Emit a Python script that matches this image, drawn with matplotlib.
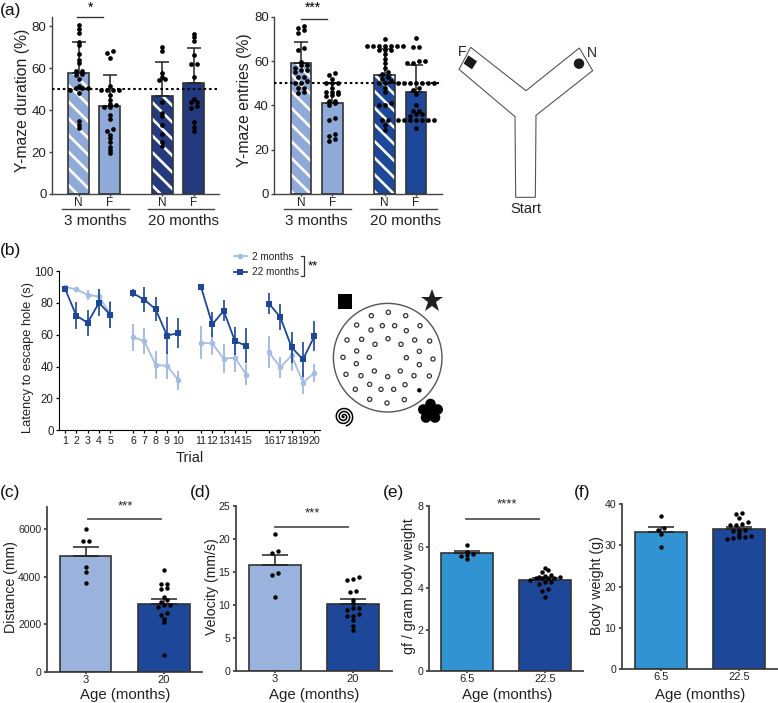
import numpy as np
import matplotlib
matplotlib.use('Agg')
import matplotlib.pyplot as plt
from matplotlib.lines import Line2D
from matplotlib.patches import Circle, Rectangle, Polygon

plt.rcParams['font.family'] = ['Liberation Sans', 'DejaVu Sans']
plt.rcParams['hatch.linewidth'] = 1.9

W, H = 778, 703

# (a) Y-maze duration
dur_labels = ['N', 'F', 'N', 'F']
dur_means = [58, 42, 47, 53]
dur_tops = [72.5, 57, 63, 69.5]
dur_dots = [
    [80.5, 79, 77, 72.5, 71, 67, 64, 62.5, 58.5, 58.5, 57.5, 57, 55, 51.5, 50.5, 50.5, 50.5, 49.5, 48, 35, 33, 31.5],
    [68.5, 67.5, 65, 51.5, 49.5, 49.5, 49.5, 49.5, 47.5, 45, 43, 42.5, 41.5, 41.5, 37.5, 36, 31, 30, 28, 26.5, 25, 22.5, 21, 19.5],
    [70, 68.5, 58, 56, 55, 54.5, 44, 38.5, 37, 33, 28.5, 25, 23],
    [76.5, 75, 73, 66.5, 62, 62, 56, 45.5, 44, 44, 42, 41, 34.5, 32, 30],
]

# (a) Y-maze entries
ent_labels = ['N', 'F', 'N', 'F']
ent_means = [59, 41, 53.5, 46]
ent_tops = [68.5, 50, 65.5, 58]
ent_dots = [
    [76, 75, 74, 72.7, 66, 65, 59.5, 58, 58, 57, 56, 56, 55, 53, 53, 51, 50, 50, 48, 48, 46, 45.5],
    [54.5, 53.5, 52, 50, 50, 50, 48, 46, 46, 46, 45, 44.5, 44, 42, 42, 41, 40, 34.5, 33.5, 27, 26, 25, 24],
    [70, 66.7, 66.7, 66.7, 66.7, 66.7, 66.7, 66.7, 65, 65, 65, 63, 61, 59, 57, 55, 54, 53, 52, 51, 50, 50, 48, 46, 41, 40, 40, 33.5, 33.5, 31, 29],
    [70.5, 66.5, 66.5, 60, 60, 59, 59, 50, 50, 50, 50, 50, 50, 50, 48, 47, 45, 40, 37.5, 37.5, 36, 36, 35, 33.5, 33.5, 33.5, 33.5, 33.5, 33.5, 33.5, 30],
]

# (b) Barnes maze
trials = list(range(1, 21))
young_mean = [90, 88.5, 85, 84, 73, 58.5, 56, 41, 40.5, 31.5, 55, 54.5, 45, 45.5, 35, 49, 39.5, 47, 30, 36]
young_err = [1, 1, 3.2, 5, 8, 8.5, 8, 9, 8.5, 6, 10.5, 7, 9, 9, 6.5, 10, 6.5, 10, 7.5, 5.5]
old_mean = [89, 72, 67.5, 80, 72.5, 86, 82, 76, 59.5, 61, 90, 66.5, 75, 56, 53, 79.5, 71, 52, 44.5, 59]
old_err = [1, 8.5, 8, 8.5, 8, 2.5, 8, 7.5, 11.5, 9.5, 0.5, 8, 6.5, 9, 11, 6.5, 8, 10, 11, 9.5]

# (c) distance
dist_labels = ['3', '20']
dist_means = [4880, 2860]
dist_tops = [5250, 3080]
dist_dots = [
    [6000, 5490, 5490, 4395, 4185, 3720],
    [4280, 3700, 3690, 3540, 3470, 3130, 3020, 2920, 2790, 2790, 2720, 2460, 2370, 2220, 2080, 720],
]

# (d) velocity
vel_labels = ['3', '20']
vel_means = [16.1, 10.2]
vel_tops = [17.6, 10.9]
vel_dots = [
    [20.8, 18.2, 17.8, 14.8, 14.5, 11.2],
    [14.2, 14, 13.8, 12.1, 12, 10.8, 10.3, 9.6, 9.5, 9.2, 8.6, 8.3, 8.3, 7.8, 6.8, 6.3],
]

# (e) grip strength
grip_labels = ['6.5', '22.5']
grip_means = [5.7, 4.4]
grip_tops = [5.82, 4.52]
grip_dots = [
    [6.1, 5.75, 5.65, 5.63, 5.55, 5.4],
    [4.97, 4.87, 4.77, 4.65, 4.6, 4.55, 4.53, 4.5, 4.5, 4.48, 4.48, 4.4, 4.32, 4.32, 4.23, 3.98, 3.85, 3.6],
]

# (f) body weight
bw_labels = ['6.5', '22.5']
bw_means = [33.3, 34]
bw_tops = [34.5, 34.5]
bw_dots = [
    [37, 34.1, 33.6, 32.7, 29.5],
    [37.8, 37.5, 36.7, 35.6, 35.2, 34.9, 34.9, 33.7, 33.5, 33.5, 32.7, 32.2, 32, 32, 31.8, 31.5],
]

LIGHT = '#8FA9D8'
NAVY = '#25397F'
DARK = '#1D4799'
PALE = '#9AB3DC'
SKY = '#3293D3'
EDGE = '#333333'


def px_axes(fig, x0, x1, ytop, ybot):
    return fig.add_axes([x0 / W, 1 - ybot / H, (x1 - x0) / W, (ybot - ytop) / H])


def swarm(values, step):
    # Prism style rows: close values are spread out side by side
    vals = sorted(values)
    xs, ys = [], []
    i = 0
    while i < len(vals):
        j = i
        while j + 1 < len(vals) and vals[j + 1] - vals[i] < step:
            j += 1
        n = j - i + 1
        for k in range(n):
            xs.append(k - (n - 1) / 2)
            ys.append(vals[i + k])
        i = j + 1
    return np.array(xs), np.array(ys)


def bar_panel(ax, centers, width_px, labels, means, tops, dots, colors, hatched, ymax, yticks, cap, spine_lw, tick_fs, xtick_fs, ms):
    x0, x1 = ax.get_position().x0 * W, ax.get_position().x1 * W
    ax.set_xlim(x0, x1)
    ax.set_ylim(0, ymax)
    y_h = ax.get_position().height * H
    for c, m, t, d, col, ha in zip(centers, means, tops, dots, colors, hatched):
        if ha:
            ax.bar(c, m, width_px, color=col, edgecolor='white', hatch='\\\\', linewidth=0, zorder=2)
        else:
            ax.bar(c, m, width_px, color=col, zorder=2)
        ax.bar(c, m, width_px, fill=False, edgecolor=EDGE, linewidth=1.2, zorder=3)
        ax.errorbar(c, m, yerr=[[0], [t - m]], color='#222222', lw=1.1, capsize=cap, capthick=1.1, zorder=4)
        xs, ys = swarm(d, 3.0 * ymax / y_h)
        ax.plot(c + xs * 6, ys, 'o', color='black', ms=ms, mew=0, zorder=5, clip_on=False)
    ax.set_xticks(centers)
    ax.set_xticklabels(labels, fontsize=xtick_fs)
    ax.set_yticks(yticks)
    ax.tick_params(axis='y', labelsize=tick_fs, length=2.5, width=spine_lw, pad=1.5, color='#444444', labelcolor='#222222')
    ax.tick_params(axis='x', length=1.5, width=spine_lw, pad=0.8, color='#444444', labelcolor='#222222')
    ax.spines[['top', 'right']].set_visible(False)
    ax.spines[['left', 'bottom']].set_linewidth(spine_lw)
    ax.spines[['left', 'bottom']].set_color('#444444')
    ax.patch.set_alpha(0)


fig = plt.figure(figsize=(W / 100, H / 100), dpi=100)

# overlay in pixel coordinates for schematics and annotations
ov = fig.add_axes([0, 0, 1, 1], zorder=10)
ov.set_xlim(0, W)
ov.set_ylim(H, 0)
ov.axis('off')

# panel a, duration
ax1 = px_axes(fig, 52, 219, 17, 194)
bar_panel(ax1, [78.7, 109.7, 162.3, 193.7], 20.7, dur_labels, dur_means, dur_tops, dur_dots,
          [LIGHT, LIGHT, NAVY, NAVY], [True, False, True, False], 84.5, [0, 20, 40, 60, 80], 5, 1.0, 9.5, 8.5, 3.4)
ax1.axhline(50, color='black', ls=(0, (1.2, 1.4)), lw=1.5, zorder=6)
ax1.set_ylabel('Y-maze duration (%)', fontsize=11.3, color='#222222', va='center')
ax1.yaxis.set_label_coords((23 - 52) / 167, 0.53)

# panel a, entries
ax2 = px_axes(fig, 274.3, 441.7, 16.7, 194)
bar_panel(ax2, [301, 332.5, 384.7, 416], 20.7, ent_labels, ent_means, ent_tops, ent_dots,
          [LIGHT, LIGHT, DARK, DARK], [True, False, True, False], 80, [0, 20, 40, 60, 80], 5, 1.0, 9.5, 8.5, 3.4)
ax2.axhline(50, color='black', ls=(0, (1.2, 1.4)), lw=1.5, zorder=6)
ax2.set_ylabel('Y-maze entries (%)', fontsize=11.3, color='#222222', va='center')
ax2.yaxis.set_label_coords((245 - 274.3) / 167.4, 0.53)

for x1, x2, tx, txt in [(62, 128.7, 95, '3 months'), (147.7, 214.3, 183.3, '20 months'),
                        (284.3, 351, 316.7, '3 months'), (370, 436.7, 405.7, '20 months')]:
    ov.plot([x1, x2], [209, 209], color='#444444', lw=1.0)
    ov.text(tx, 221, txt, ha='center', va='center', fontsize=11, color='#222222')
ov.plot([77.3, 103.3], [16.7, 16.7], color='#333333', lw=1.0)
ov.text(90.7, 11.5, '*', ha='center', va='baseline', fontsize=10)
ov.plot([301.3, 326.7], [19, 19], color='#333333', lw=1.0)
ov.text(313, 11.5, '***', ha='center', va='baseline', fontsize=10)

# Y-maze schematic
ym = [(62, 82), (228, 212), (388, 84), (428, 152), (258, 286), (256, 532), (197, 532), (195, 290), (27, 148)]
ov.add_patch(Polygon([(450 + x / 3, 20 + y / 3) for x, y in ym], closed=True, fill=False, ec='#555555', lw=0.8))
ov.add_patch(Polygon([(450 + x / 3, 20 + y / 3) for x, y in [(55, 106), (81, 124), (66, 148), (41, 131)]], closed=True, fc='#1a1a1a', ec='none'))
ov.add_patch(Circle((450 + 387 / 3, 20 + 131 / 3), 5.2, fc='#1a1a1a', ec='none'))
ov.text(462, 52, 'F', ha='center', va='center', fontsize=10, color='#222222')
ov.text(592, 53, 'N', ha='center', va='center', fontsize=10, color='#222222')
ov.text(526, 209, 'Start', ha='center', va='center', fontsize=10.5, color='#222222')

# panel b
ax3 = px_axes(fig, 59.3, 320, 271, 430.3)
pos = np.array(trials) + (np.array(trials) - 1) // 5
y_m, y_e = np.array(young_mean), np.array(young_err)
o_m, o_e = np.array(old_mean), np.array(old_err)
for b in range(4):
    s = slice(b * 5, b * 5 + 5)
    ax3.errorbar(pos[s], y_m[s], yerr=y_e[s], color='#A5BCE3', lw=1.3, elinewidth=1.4, capsize=2.8, capthick=1.2,
                 marker='o', ms=4, mew=0, zorder=2)
for b in range(4):
    s = slice(b * 5, b * 5 + 5)
    ax3.errorbar(pos[s], o_m[s], yerr=o_e[s], color=DARK, lw=1.3, elinewidth=1.2, capsize=2.8, capthick=1.2,
                 marker='s', ms=4, mew=0, zorder=3)
ax3.set_xlim(0.5, 23.5)
ax3.set_ylim(0, 100)
ax3.set_xticks(pos)
ax3.set_xticklabels(trials)
ax3.tick_params(axis='x', labelsize=7.7, length=2.5, width=0.9, pad=1.5, labelcolor='#222222')
ax3.tick_params(axis='y', labelsize=8.3, length=2.5, width=0.9, pad=1.5, labelcolor='#222222')
ax3.spines[['top', 'right']].set_visible(False)
ax3.set_xlabel('Trial', fontsize=10.5, color='#222222')
ax3.xaxis.set_label_coords((190 - 59.3) / 260.7, -(457.7 - 430.3) / 159.3)
ax3.xaxis.label.set_va('center')
ax3.set_ylabel('Latency to escape hole (s)', fontsize=9.3, color='#222222', va='center')
ax3.yaxis.set_label_coords((27.7 - 59.3) / 260.7, 0.46)
handles = [Line2D([], [], color='#A5BCE3', marker='o', ms=4, mew=0, lw=1.3),
           Line2D([], [], color=DARK, marker='s', ms=4, mew=0, lw=1.3)]
ax3.legend(handles, ['2 months', '22 months'], frameon=False, fontsize=7.2, handlelength=1.3, handletextpad=0.5,
           labelspacing=0.55, loc='center left', bbox_to_anchor=(234 / W, 1 - 264.5 / H), bbox_transform=fig.transFigure,
           borderpad=0, borderaxespad=0, labelcolor='#222222')
ov.plot([301, 304.5, 304.5, 301], [255.5, 255.5, 276, 276], color='#333333', lw=0.9)
ov.text(313, 266, '**', ha='center', va='center', fontsize=9.5)

# Barnes maze schematic
holes = [(139, 107), (190, 97), (242, 107), (95, 135), (172, 137), (209, 137), (285, 137), (138, 150), (244, 152),
         (66, 180), (110, 178), (189, 176), (269, 180), (314, 183), (150, 193), (228, 193), (95, 213), (283, 214),
         (54, 232), (133, 232), (244, 233), (324, 237), (94, 251), (283, 254), (148, 273), (226, 273), (63, 283),
         (108, 287), (188, 290), (267, 287), (313, 288), (134, 313), (240, 314), (91, 328), (168, 328), (206, 328),
         (134, 358), (186, 369), (238, 359)]
ov.add_patch(Circle((387.7, 357.7), 54.3, fill=False, ec='#555555', lw=1.0))
for hx, hy in holes:
    ov.add_patch(Circle((325 + hx / 3, 280 + hy / 3), 2.1, fill=False, ec='#333333', lw=0.9))
ov.add_patch(Circle((325 + 283 / 3, 280 + 331 / 3), 2.2, fc='black', ec='none'))
ov.add_patch(Rectangle((338, 293.7), 14.3, 15.3, fc='black', ec='none'))
ov.plot([432], [301], marker='*', ms=17, color='#231f20', mew=0)
for dx, dy in [(0, -7.5), (7.2, -2), (4.5, 6), (-4.5, 6), (-7.2, -2)]:
    ov.add_patch(Circle((430.5 + dx, 411.5 + dy), 5.3, fc='black', ec='none'))
ov.add_patch(Circle((430.5, 411.5), 5, fc='black', ec='none'))
th = np.linspace(0, 3.2 * 2 * np.pi, 300)
ov.plot(343.7 + th / th.max() * 9.5 * np.cos(th), 416.7 + th / th.max() * 9.5 * np.sin(th), color='black', lw=1.1)

# bottom row
ax4 = px_axes(fig, 46.7, 202, 506.7, 671.7)
bar_panel(ax4, [85.5, 163.8], 51.7, dist_labels, dist_means, dist_tops, dist_dots, [PALE, DARK], [False, False],
          6952, [0, 2000, 4000, 6000], 9.5, 1.3, 7.6, 8, 3.2)
ax5 = px_axes(fig, 235.7, 391.7, 505.7, 671.3)
bar_panel(ax5, [274.7, 353], 51.7, vel_labels, vel_means, vel_tops, vel_dots, [PALE, DARK], [False, False],
          25, [0, 5, 10, 15, 20, 25], 9.5, 1.3, 7.6, 8, 3.2)
ax6 = px_axes(fig, 428.7, 583, 505.7, 671)
bar_panel(ax6, [467, 545], 51.7, grip_labels, grip_means, grip_tops, grip_dots, [SKY, DARK], [False, False],
          8, [0, 2, 4, 6, 8], 9.5, 1.3, 7.6, 8, 3.2)
ax7 = px_axes(fig, 621.7, 778, 504, 669.3)
bar_panel(ax7, [661, 739], 51.7, bw_labels, bw_means, bw_tops, bw_dots, [SKY, DARK], [False, False],
          40, [0, 10, 20, 30, 40], 9.5, 1.3, 7.6, 8, 3.2)

for ax, x0, x1, tx, ylab, lx, ly in [
    (ax4, 46.7, 202, 125, 'Distance (mm)', 11.5, 587.5),
    (ax5, 235.7, 391.7, 314, 'Velocity (mm/s)', 212, 586.7),
    (ax6, 428.7, 583, 506.7, 'gf / gram body weight', 409, 585.8),
    (ax7, 621.7, 778, 700, 'Body weight (g)', 597, 586),
]:
    ov.text(tx, 695, 'Age (months)', ha='center', va='center', fontsize=10.8, color='#222222')
    ax.set_ylabel(ylab, fontsize=10.2, color='#222222', va='center')
    pos_ = ax.get_position()
    ax.yaxis.set_label_coords((lx - x0) / (x1 - x0), (H - ly - pos_.y0 * H) / (pos_.height * H))

for x1, x2, yy, tx, ty, star in [(88.3, 161.3, 518.7, 125, 506, '***'), (275.3, 348, 526.7, 312.3, 513, '***'),
                                 (466, 539, 518.7, 506.7, 504, '****')]:
    ov.plot([x1, x2], [yy, yy], color='#555555', lw=1.3)
    ov.text(tx, ty, star, ha='center', va='center', fontsize=9.5, color='#222222')

for txt, x, y in [('(a)', 0, 10), ('(b)', 0, 250), ('(c)', 0, 492), ('(d)', 190, 492), ('(e)', 383, 492), ('(f)', 574, 492)]:
    ov.text(x, y, txt, ha='left', va='center', fontsize=12.5, color='#111111')

fig.savefig('out.png', dpi=100)
